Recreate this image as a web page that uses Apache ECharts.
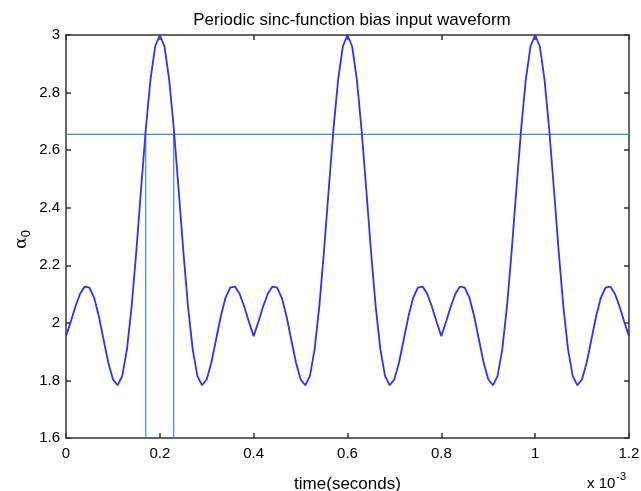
<!DOCTYPE html>
<html>
<head>
<meta charset="utf-8">
<script src="https://cdn.jsdelivr.net/npm/echarts@6/dist/echarts.min.js"></script>
<style>
    html, body { margin: 0; padding: 0; background: #fff; }
    #main { width: 641px; height: 491px; }
</style>
</head>
<body>
<div id="main"></div>
<script>
const log = console.log.bind(console)

// time axis, in units of 1e-3 s
const times = [
    0.00, 0.01, 0.02, 0.03, 0.04, 0.05, 0.06, 0.07, 0.08, 0.09,
    0.10, 0.11, 0.12, 0.13, 0.14, 0.15, 0.16, 0.17, 0.18, 0.19,
    0.20, 0.21, 0.22, 0.23, 0.24, 0.25, 0.26, 0.27, 0.28, 0.29,
    0.30, 0.31, 0.32, 0.33, 0.34, 0.35, 0.36, 0.37, 0.38, 0.39,
    0.40, 0.41, 0.42, 0.43, 0.44, 0.45, 0.46, 0.47, 0.48, 0.49,
    0.50, 0.51, 0.52, 0.53, 0.54, 0.55, 0.56, 0.57, 0.58, 0.59,
    0.60, 0.61, 0.62, 0.63, 0.64, 0.65, 0.66, 0.67, 0.68, 0.69,
    0.70, 0.71, 0.72, 0.73, 0.74, 0.75, 0.76, 0.77, 0.78, 0.79,
    0.80, 0.81, 0.82, 0.83, 0.84, 0.85, 0.86, 0.87, 0.88, 0.89,
    0.90, 0.91, 0.92, 0.93, 0.94, 0.95, 0.96, 0.97, 0.98, 0.99,
    1.00, 1.01, 1.02, 1.03, 1.04, 1.05, 1.06, 1.07, 1.08, 1.09,
    1.10, 1.11, 1.12, 1.13, 1.14, 1.15, 1.16, 1.17, 1.18, 1.19,
    1.20,
]

// alpha_0
const alpha0 = [
    1.954, 2.003, 2.056, 2.101, 2.126, 2.122, 2.087, 2.023, 1.943, 1.863,
    1.804, 1.783, 1.816, 1.909, 2.058, 2.251, 2.464, 2.671, 2.844, 2.960,
    3.000, 2.960, 2.844, 2.671, 2.464, 2.251, 2.058, 1.909, 1.816, 1.783,
    1.804, 1.863, 1.943, 2.023, 2.087, 2.122, 2.126, 2.101, 2.056, 2.003,
    1.954, 2.003, 2.056, 2.101, 2.126, 2.122, 2.087, 2.023, 1.943, 1.863,
    1.804, 1.783, 1.816, 1.909, 2.058, 2.251, 2.464, 2.671, 2.844, 2.960,
    3.000, 2.960, 2.844, 2.671, 2.464, 2.251, 2.058, 1.909, 1.816, 1.783,
    1.804, 1.863, 1.943, 2.023, 2.087, 2.122, 2.126, 2.101, 2.056, 2.003,
    1.954, 2.003, 2.056, 2.101, 2.126, 2.122, 2.087, 2.023, 1.943, 1.863,
    1.804, 1.783, 1.816, 1.909, 2.058, 2.251, 2.464, 2.671, 2.844, 2.960,
    3.000, 2.960, 2.844, 2.671, 2.464, 2.251, 2.058, 1.909, 1.816, 1.783,
    1.804, 1.863, 1.943, 2.023, 2.087, 2.122, 2.126, 2.101, 2.056, 2.003,
    1.954,
]

// threshold level and where the first peak crosses it
const refLevel = 2.655
const cutTimes = [0.170, 0.2295]

const xTicks = ['0', '0.2', '0.4', '0.6', '0.8', '1', '1.2']
const yTicks = ['1.6', '1.8', '2', '2.2', '2.4', '2.6', '2.8', '3']

const axisColor = '#333333'
const curveColor = '#2f2fff'
const refColor = '#3f88e0'
const font = 'Liberation Sans, Arial, sans-serif'

let element = document.querySelector('#main')
let myChart = echarts.init(element)

const boxAxis = (extra) => {
    let a = {
        type: 'value',
        axisLine: { show: true, onZero: false, lineStyle: { color: axisColor, width: 1.5 } },
        axisTick: { show: true, inside: true, length: 5, lineStyle: { color: axisColor, width: 1.5 } },
        splitLine: { show: false },
    }
    return Object.assign(a, extra)
}

const curve = times.map((t, i) => [t, alpha0[i]])
const hLine = [[0, refLevel], [1.2, refLevel]]
const vLines = cutTimes.map(t => [[t, 1.6], [t, refLevel]])

const option = {
    animation: false,
    backgroundColor: '#ffffff',
    title: {
        text: 'Periodic sinc-function bias input waveform',
        left: 347,
        textAlign: 'center',
        top: 7,
        textStyle: { fontFamily: font, fontSize: 17, fontWeight: 'normal', color: '#000' },
    },
    grid: { left: 66, right: 12, top: 35, bottom: 53, outerBoundsMode: 'none', containLabel: false },
    xAxis: [
        boxAxis({
            min: 0, max: 1.2, interval: 0.2, position: 'bottom',
            axisLabel: {
                margin: 8, color: '#000', fontFamily: font, fontSize: 15,
                formatter: (v) => xTicks[Math.round(v / 0.2)],
            },
            name: 'time(seconds)',
            nameLocation: 'middle',
            nameGap: 38,
            nameTextStyle: { fontFamily: font, fontSize: 17, color: '#000' },
        }),
        boxAxis({
            min: 0, max: 1.2, interval: 0.2, position: 'top',
            axisLabel: { show: false },
        }),
    ],
    yAxis: [
        boxAxis({
            min: 1.6, max: 3, interval: 0.2, position: 'left',
            axisLabel: {
                margin: 6, color: '#000', fontFamily: font, fontSize: 15,
                formatter: (v) => yTicks[Math.round((v - 1.6) / 0.2)],
            },
        }),
        boxAxis({
            min: 1.6, max: 3, interval: 0.2, position: 'right',
            axisLabel: { show: false },
        }),
    ],
    graphic: [
        {
            type: 'text',
            left: 13,
            top: 230,
            rotation: Math.PI / 2,
            style: {
                text: '{a|α}{s|0}',
                rich: {
                    a: { fontFamily: 'DejaVu Serif, serif', fontSize: 17, fill: '#000' },
                    s: { fontFamily: font, fontSize: 13, fill: '#000', padding: [10, 0, 0, 0] },
                },
            },
        },
        {
            type: 'text',
            left: 587,
            top: 471,
            style: {
                text: '{a|x 10}{s|-3}',
                rich: {
                    a: { fontFamily: font, fontSize: 15, fill: '#000', padding: [8, 0, 0, 0] },
                    s: { fontFamily: font, fontSize: 11, fill: '#000', padding: [0, 0, 6, 1] },
                },
            },
        },
    ],
    series: [
        {
            type: 'line',
            data: curve,
            showSymbol: false,
            smooth: false,
            lineStyle: { color: curveColor, width: 1.8 },
            z: 3,
        },
        {
            type: 'line',
            data: hLine,
            showSymbol: false,
            lineStyle: { color: refColor, width: 1.2 },
            z: 2,
        },
    ].concat(vLines.map(d => ({
        type: 'line',
        data: d,
        showSymbol: false,
        lineStyle: { color: refColor, width: 1.2 },
        z: 2,
    }))),
}

myChart.setOption(option)
</script>
</body>
</html>
